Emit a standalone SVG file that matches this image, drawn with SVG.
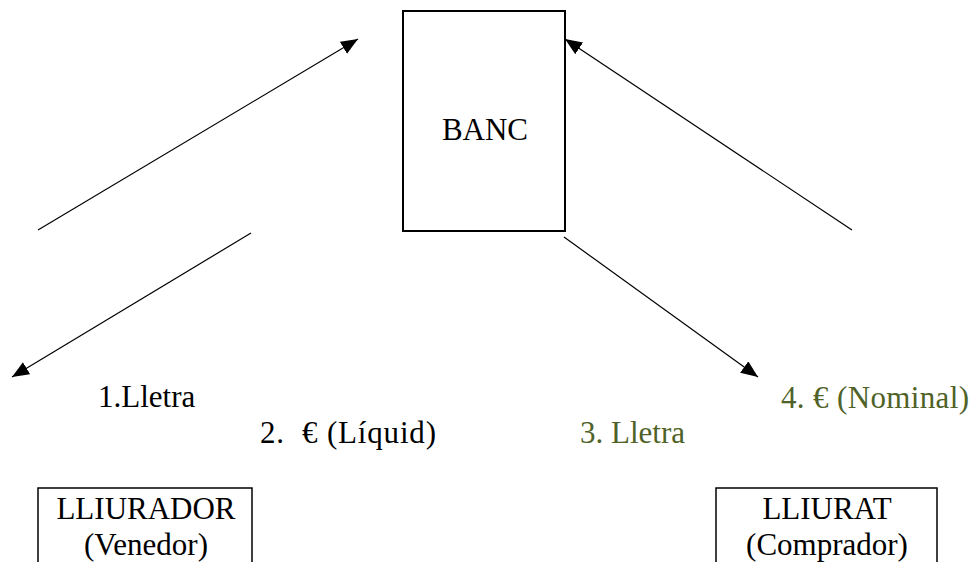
<svg xmlns="http://www.w3.org/2000/svg" width="975" height="562" viewBox="0 0 975 562">
<style>
.t{font-family:"Liberation Serif","Times New Roman",serif;font-size:31px;fill:#000}
.g{fill:#4f6228}
.box{fill:#fff;stroke:#000}
.c{stroke:#000;stroke-width:1.2;fill:none}
</style>
<defs>
<marker id="ah" markerUnits="userSpaceOnUse" markerWidth="19" markerHeight="15" refX="17" refY="7" orient="auto">
<path d="M0,0 L17,7 L0,14 z" fill="#000"/>
</marker>
</defs>
<rect width="975" height="562" fill="#fff"/>
<g id="connectors">
<line class="c" x1="38" y1="230" x2="358" y2="39" marker-end="url(#ah)"/>
<line class="c" x1="251" y1="233" x2="12" y2="377" marker-end="url(#ah)"/>
<line class="c" x1="564" y1="237" x2="758" y2="377" marker-end="url(#ah)"/>
<line class="c" x1="852" y1="230" x2="565" y2="39" marker-end="url(#ah)"/>
</g>
<g id="banc">
<rect class="box" x="403" y="11" width="162" height="220" stroke-width="2"/>
<text class="t" x="485" y="140" text-anchor="middle">BANC</text>
</g>
<g id="lliurador">
<rect class="box" x="38" y="488" width="214" height="100" stroke-width="1.5"/>
<text class="t" x="146" y="519" text-anchor="middle">LLIURADOR</text>
<text class="t" x="146" y="555" text-anchor="middle">(Venedor)</text>
</g>
<g id="lliurat">
<rect class="box" x="716" y="488" width="221" height="100" stroke-width="1.5"/>
<text class="t" x="827" y="519" text-anchor="middle">LLIURAT</text>
<text class="t" x="827" y="555" text-anchor="middle">(Comprador)</text>
</g>
<g id="labels">
<text class="t" x="98" y="407">1.Lletra</text>
<text class="t" x="260" y="443" xml:space="preserve" textLength="176" lengthAdjust="spacing">2.  € (Líquid)</text>
<text class="t g" x="580" y="443">3. Lletra</text>
<text class="t g" x="781" y="408" textLength="188" lengthAdjust="spacing">4. € (Nominal)</text>
</g>
</svg>
